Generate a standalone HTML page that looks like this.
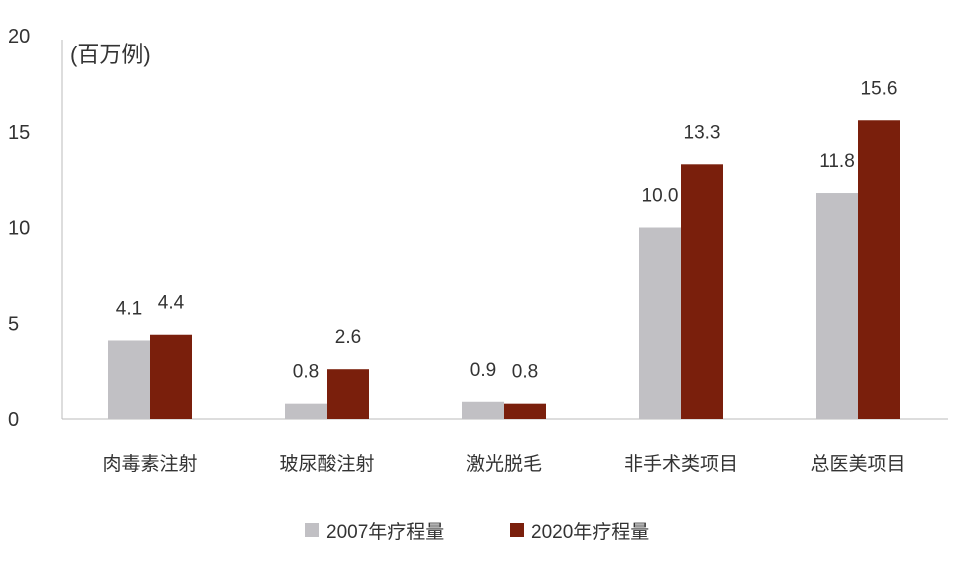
<!DOCTYPE html>
<html><head><meta charset="utf-8"><style>
html,body{margin:0;padding:0;background:#fff;}
svg text{font-family:"Liberation Sans","Noto Sans CJK SC",sans-serif;fill:#333;}
</style></head><body>
<svg width="960" height="557" xmlns="http://www.w3.org/2000/svg">
<g id="axes"></g><g id="bars"></g>
<text x="70" y="62" font-size="22">(百万例)</text>
<g>
<rect x="305" y="523" width="14" height="14" fill="#c1c0c4"/>
<text x="326" y="538" font-size="19">2007年疗程量</text>
<rect x="510" y="523" width="14" height="14" fill="#7a1f0c"/>
<text x="531" y="538" font-size="19">2020年疗程量</text>
</g>
</svg>
<script>
const categories=["肉毒素注射","玻尿酸注射","激光脱毛","非手术类项目","总医美项目"];
const values2007=[4.1,0.8,0.9,10.0,11.8];
const values2020=[4.4,2.6,0.8,13.3,15.6];
const yTicks=[0,5,10,15,20];
const ns="http://www.w3.org/2000/svg";
const y0=419,yTop=36,left=62,right=948;
function yScale(v){return y0-(y0-yTop)*v/20;}
function xCenter(i){return 150+i*177;}
const axes=document.getElementById('axes'),bars=document.getElementById('bars');
function mk(tag,attrs,parent){const e=document.createElementNS(ns,tag);for(const k in attrs)e.setAttribute(k,attrs[k]);parent.appendChild(e);return e;}
let l=mk('line',{x1:left,y1:40,x2:left,y2:y0,stroke:'#bbb','stroke-width':1},axes);


l=mk('line',{x1:left,y1:y0,x2:right,y2:y0,stroke:'#bbb','stroke-width':1},axes);


yTicks.forEach(t=>{const e=mk('text',{x:8,y:yScale(t)+7,'font-size':20},axes);e.textContent=t;

});
categories.forEach((c,i)=>{
 const cx=xCenter(i);
 [[values2007[i],cx-42,'#c1c0c4','bar-2007'],[values2020[i],cx,'#7a1f0c','bar-2020']].forEach(([v,x,col,n])=>{
  const r=mk('rect',{x:x,y:yScale(v),width:42,height:y0-yScale(v),fill:col},bars);
  
  
  const t=mk('text',{x:x+21,y:yScale(v)-26,'font-size':19,'text-anchor':'middle'},bars);
  t.textContent=v.toFixed(1);
  
  
 });
 const t=mk('text',{x:cx,y:470,'font-size':19,'text-anchor':'middle'},bars);
 t.textContent=c;
 
 
});
</script>
</body></html>
